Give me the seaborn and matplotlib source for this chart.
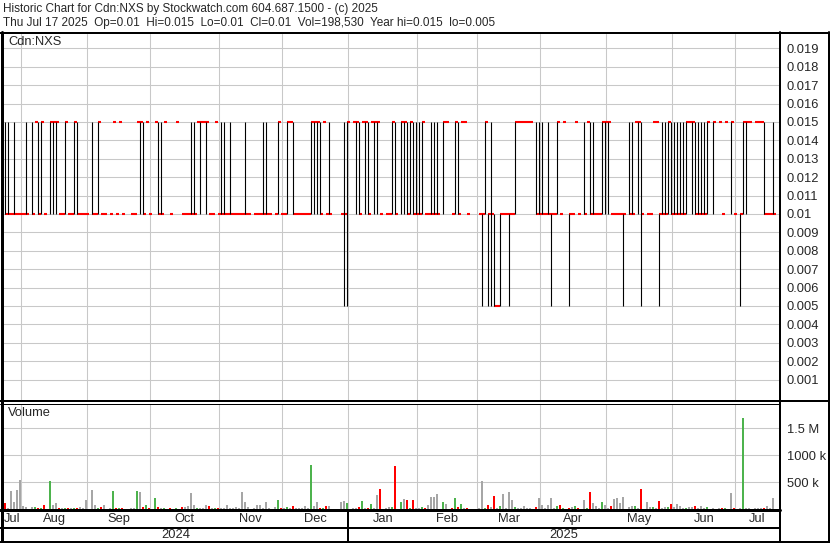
import numpy as np
import pandas as pd
import matplotlib
matplotlib.use("Agg")
import matplotlib.pyplot as plt
import matplotlib.transforms as mtransforms
import seaborn as sns

# daily prices in 0.001 units (None = no trade), volume in thousands
close_px = [
    10, 10, 10, 10, 10, 10, 10, 10, None, 10,
    15, 10, 15, 10, None, 15, 15, 15, 10, 10,
    15, 10, 10, 15, 10, 10, 10, 10, None, 10,
    10, 15, 10, 10, None, 10, 15, 10, 15, 10,
    None, None, 10, 10, 15, 15, 10, 15, 10, None,
    15, 10, 10, 15, None, 10, None, 15, None, 10,
    10, 10, 10, 10, 15, 15, 15, 15, 10, 10,
    15, 10, 10, 10, 10, 10, 10, 10, 10, 10,
    10, 10, None, 10, 10, 10, 10, 10, 10, None,
    10, 15, 10, 10, 15, 15, 10, 10, 10, 10,
    10, 10, 15, 15, 15, 10, 15, 10, 10, None,
    None, None, 10, 10, 15, None, 15, 15, 10, 15,
    15, 10, 15, 15, 15, 10, None, 10, 10, 15,
    10, None, 15, 15, 10, 15, 10, 10, 10, 15,
    10, 10, 10, 10, 10, None, 15, 15, None, 10,
    15, 10, 15, 15, 10, None, None, None, 10, 10,
    15, 10, 10, 5, 5, 10, 10, 10, 10, 10,
    15, 15, 15, 15, 15, 15, None, 10, 10, 10,
    10, 10, 10, 10, 15, 10, 15, None, 10, 10,
    15, 10, None, 10, 15, 10, 10, 10, 10, 15,
    15, 15, 10, 10, 10, 10, 10, None, 10, 10,
    15, 15, 10, None, 10, 10, 15, 15, 10, 10,
    10, 15, 10, 10, 10, 10, 10, 15, 15, 15,
    10, 10, 10, 10, 15, None, 15, None, 15, 10,
    15, None, 15, 10, None, 10, 15, 15, 15, None,
    15, 15, 15, 10, 10, 10, 10,
]
low_px = [
    10, 10, 10, 10, 10, 10, 10, 10, None, 10,
    15, 10, 10, 10, None, 10, 10, 10, 10, 10,
    10, 10, 10, 10, 10, 10, 10, 10, None, 10,
    10, 10, 10, 10, None, 10, 15, 10, 15, 10,
    None, None, 10, 10, 15, 10, 10, 15, 10, None,
    15, 10, 10, 15, None, 10, None, 15, None, 10,
    10, 10, 10, 10, 15, 10, 15, 10, 10, 10,
    15, 10, 10, 10, 10, 10, 10, 10, 10, 10,
    10, 10, None, 10, 10, 10, 10, 10, 10, None,
    10, 10, 10, 10, 10, 15, 10, 10, 10, 10,
    10, 10, 10, 10, 10, 10, 15, 10, 10, None,
    None, None, 10, 5, 5, None, 15, 10, 10, 15,
    10, 10, 15, 10, 10, 10, None, 10, 10, 10,
    10, None, 10, 10, 10, 10, 10, 10, 10, 10,
    10, 10, 10, 10, 10, None, 10, 15, None, 10,
    10, 10, 15, 15, 10, None, None, None, 10, 5,
    10, 5, 5, 5, 5, 5, 10, 10, 5, 10,
    10, 15, 15, 15, 15, 15, None, 10, 10, 10,
    10, 10, 5, 10, 10, 10, 15, None, 5, 10,
    15, 10, None, 10, 15, 10, 10, 10, 10, 10,
    10, 10, 10, 10, 10, 10, 5, None, 10, 10,
    15, 10, 5, None, 10, 10, 15, 15, 5, 10,
    10, 10, 10, 10, 10, 10, 10, 10, 15, 10,
    10, 10, 10, 10, 10, None, 10, None, 15, 10,
    15, None, 10, 10, None, 5, 10, 10, 15, None,
    15, 15, 15, 10, 10, 10, 10,
]
high_px = [
    15, 15, 10, 15, 10, 10, 10, 15, None, 15,
    15, 15, 15, 10, None, 15, 15, 15, 10, 10,
    15, 10, 10, 15, 15, 10, 10, 10, None, 15,
    10, 15, 10, 10, None, 10, 15, 10, 15, 10,
    None, None, 10, 10, 15, 15, 15, 15, 10, None,
    15, 15, 15, 15, None, 10, None, 15, None, 10,
    10, 10, 15, 15, 15, 15, 15, 15, 10, 10,
    15, 10, 15, 15, 10, 15, 10, 10, 10, 10,
    15, 10, None, 10, 10, 10, 15, 15, 10, None,
    10, 15, 10, 10, 15, 15, 15, 10, 10, 10,
    10, 10, 15, 15, 15, 15, 15, 10, 15, None,
    None, None, 10, 15, 15, None, 15, 15, 15, 15,
    15, 15, 15, 15, 15, 10, None, 10, 10, 15,
    15, None, 15, 15, 15, 15, 15, 15, 15, 15,
    10, 10, 15, 15, 15, None, 15, 15, None, 10,
    15, 15, 15, 15, 10, None, None, None, 10, 10,
    15, 10, 15, 10, 5, 10, 10, 10, 10, 10,
    15, 15, 15, 15, 15, 15, None, 15, 15, 15,
    10, 15, 10, 10, 15, 10, 15, None, 10, 10,
    15, 10, None, 15, 15, 15, 15, 10, 10, 15,
    15, 15, 10, 10, 10, 10, 10, None, 15, 15,
    15, 15, 15, None, 10, 10, 15, 15, 10, 15,
    15, 15, 15, 15, 15, 15, 15, 15, 15, 15,
    15, 15, 15, 15, 15, None, 15, None, 15, 10,
    15, None, 15, 10, None, 10, 15, 15, 15, None,
    15, 15, 15, 15, 10, 10, 15,
]
volume_k = [
    115, 10, 328, 133, 346, 540, 55, 36, 0, 36,
    36, 24, 24, 73, 0, 515, 79, 109, 18, 18,
    18, 18, 18, 18, 18, 36, 18, 164, 0, 346,
    73, 18, 36, 73, 0, 18, 328, 18, 18, 18,
    0, 0, 18, 18, 328, 309, 36, 73, 18, 0,
    200, 36, 18, 18, 0, 18, 0, 18, 0, 36,
    36, 55, 291, 73, 18, 18, 18, 73, 55, 18,
    18, 18, 18, 18, 73, 18, 18, 36, 18, 309,
    127, 36, 0, 18, 73, 73, 18, 127, 18, 0,
    36, 164, 18, 18, 36, 18, 55, 18, 18, 18,
    55, 18, 819, 55, 127, 18, 18, 55, 55, 0,
    0, 0, 127, 146, 109, 0, 18, 18, 36, 146,
    18, 18, 91, 18, 255, 364, 0, 18, 36, 36,
    800, 0, 127, 182, 164, 18, 164, 18, 18, 36,
    18, 73, 218, 218, 273, 0, 127, 91, 0, 18,
    200, 36, 91, 18, 18, 0, 0, 0, 18, 528,
    18, 73, 36, 237, 18, 55, 273, 18, 309, 164,
    36, 18, 18, 55, 18, 18, 0, 36, 200, 73,
    18, 73, 200, 18, 55, 73, 18, 0, 18, 36,
    55, 18, 0, 164, 18, 309, 109, 55, 18, 127,
    73, 18, 55, 182, 200, 109, 218, 0, 36, 55,
    55, 18, 364, 0, 127, 36, 36, 18, 146, 18,
    36, 36, 91, 36, 91, 55, 18, 18, 36, 36,
    55, 18, 55, 18, 36, 0, 18, 0, 18, 18,
    18, 0, 291, 18, 0, 18, 1693, 18, 18, 0,
    18, 18, 18, 18, 55, 18, 200,
]
prev_close = 15
last_day = "2025-07-17"

title_1 = "Historic Chart for Cdn:NXS by Stockwatch.com 604.687.1500 - (c) 2025"
title_2 = ("Thu Jul 17 2025  Op=0.01  Hi=0.015  Lo=0.01  Cl=0.01  "
           "Vol=198,530  Year hi=0.015  lo=0.005")
price_ticks = [0.001, 0.002, 0.003, 0.004, 0.005, 0.006, 0.007, 0.008, 0.009,
               0.01, 0.011, 0.012, 0.013, 0.014, 0.015, 0.016, 0.017, 0.018, 0.019]
vol_ticks = [500, 1000, 1500]
vol_labels = ["500 k", "1000 k", "1.5 M"]

n = len(close_px)
df = pd.DataFrame({
    "date": pd.bdate_range(end=last_day, periods=n),
    "day": np.arange(n),
    "close": pd.array(close_px, dtype="Float64").astype(float),
    "low": pd.array(low_px, dtype="Float64").astype(float),
    "high": pd.array(high_px, dtype="Float64").astype(float),
    "volume": volume_k,
})
prev = df["close"].ffill().shift(1).fillna(prev_close)
df["move"] = np.where(df["close"] > prev, "up",
                      np.where(df["close"] < prev, "down", "flat"))

# month boundaries (first trading day of each month)
first_days = df.groupby(df["date"].dt.to_period("M"))["day"].min()
edges = [d - 0.5 for d in first_days.values[1:]]
jan_edge = first_days[pd.Period("2025-01", "M")] - 0.5

sns.set_style("white")
plt.rcParams["font.family"] = ["Liberation Sans", "DejaVu Sans"]
plt.rcParams["font.size"] = 9.3

W, H = 830, 543
fig = plt.figure(figsize=(W / 100, H / 100), dpi=100)


def place(x0, y0, x1, y1):
    return fig.add_axes([x0 / W, 1 - y1 / H, (x1 - x0) / W, (y1 - y0) / H])


xl = (-0.57, -0.57 + 776 / 3.0)
grid_c = "#c8c8c8"
fs = 9.3
fs_head = 8.5

# price panel
ax_p = place(3, 34, 779, 400)
ax_p.set_xlim(*xl)
ax_p.set_ylim(-0.00011, 0.01978)
ax_p.set_axisbelow(True)
ax_p.set_xticks(edges)
ax_p.set_yticks(price_ticks)
ax_p.set_yticklabels([f"{v:g}" for v in price_ticks])
ax_p.grid(True, color=grid_c, lw=0.75)
ax_p.yaxis.tick_right()
ax_p.tick_params(axis="x", length=0, labelbottom=False)
ax_p.tick_params(axis="y", length=0, pad=5.5, labelsize=fs)
for s in ax_p.spines.values():
    s.set_visible(False)

traded = df.dropna(subset=["close"])
ax_p.hlines(traded["close"] / 1000, traded["day"], traded["day"] + 1,
            color="#ff0000", lw=1.5, zorder=2)
ranged = traded[traded["high"] > traded["low"]]
ax_p.vlines(ranged["day"], ranged["low"] / 1000, ranged["high"] / 1000,
            color="black", lw=0.8, zorder=3)

# volume panel
ax_v = place(3, 404, 779, 509)
vdf = df[df["volume"] > 0]
sns.barplot(data=vdf, x="day", y="volume", hue="move",
            palette={"up": "#4db34d", "down": "#ff0000", "flat": "#a6a6a6"},
            hue_order=["up", "down", "flat"], native_scale=True, width=0.7,
            dodge=False, errorbar=None, legend=False, linewidth=0,
            edgecolor="none", saturation=1, ax=ax_v)
ax_v.set_xlim(*xl)
ax_v.set_ylim(0, 1947)
ax_v.set_axisbelow(True)
ax_v.set_xticks(edges)
ax_v.set_yticks(vol_ticks)
ax_v.set_yticklabels(vol_labels)
ax_v.grid(True, color=grid_c, lw=0.75)
ax_v.yaxis.tick_right()
ax_v.tick_params(axis="x", length=0, labelbottom=False)
ax_v.tick_params(axis="y", length=0, pad=5.5, labelsize=fs)
ax_v.set_xlabel("")
ax_v.set_ylabel("")
for s in ax_v.spines.values():
    s.set_visible(False)

# frame, titles and date rows
ov = fig.add_axes([0, 0, 1, 1], zorder=10)
ov.set_xlim(0, W)
ov.set_ylim(H, 0)
ov.axis("off")
px = 0.72
ov.plot([1.5, 1.5], [32, 543], color="black", lw=3 * px)
ov.plot([0, W], [33, 33], color="black", lw=2 * px)
ov.plot([829, 829], [32, 543], color="black", lw=2 * px)
ov.plot([780, 780], [32, 543], color="black", lw=2 * px)
ov.plot([0, W], [401, 401], color="black", lw=2 * px)
ov.plot([0, 780], [403.5, 403.5], color="black", lw=1 * px)
ov.plot([0, 780], [509.5, 509.5], color="black", lw=3 * px)
ov.plot([0, 780], [527.5, 527.5], color="black", lw=2 * px)
ov.plot([0, W], [541.5, 541.5], color="black", lw=3 * px)

ov.text(3, 9, title_1, va="center", ha="left", fontsize=fs_head)
ov.text(3, 23, title_2, va="center", ha="left", fontsize=fs_head)
ov.text(8, 42, "Cdn:NXS", va="center", ha="left", fontsize=fs)
ov.text(8, 413, "Volume", va="center", ha="left", fontsize=fs)

trans = mtransforms.blended_transform_factory(ax_p.transData, ov.transData)
bounds = [xl[0]] + edges + [xl[1]]
months = df.groupby(df["date"].dt.to_period("M"))["date"].first().dt.strftime("%b").values
for m, a, b in zip(months, bounds[:-1], bounds[1:]):
    ov.text((a + b) / 2, 519, m, transform=trans, ha="center", va="center", fontsize=fs)
ov.text((xl[0] + jan_edge) / 2, 535, "2024", transform=trans, ha="center", va="center", fontsize=fs)
ov.text((jan_edge + xl[1]) / 2, 535, "2025", transform=trans, ha="center", va="center", fontsize=fs)
ov.plot([jan_edge, jan_edge], [510, 541], transform=trans, color="black", lw=2 * px)

fig.savefig("out.png", dpi=100)
